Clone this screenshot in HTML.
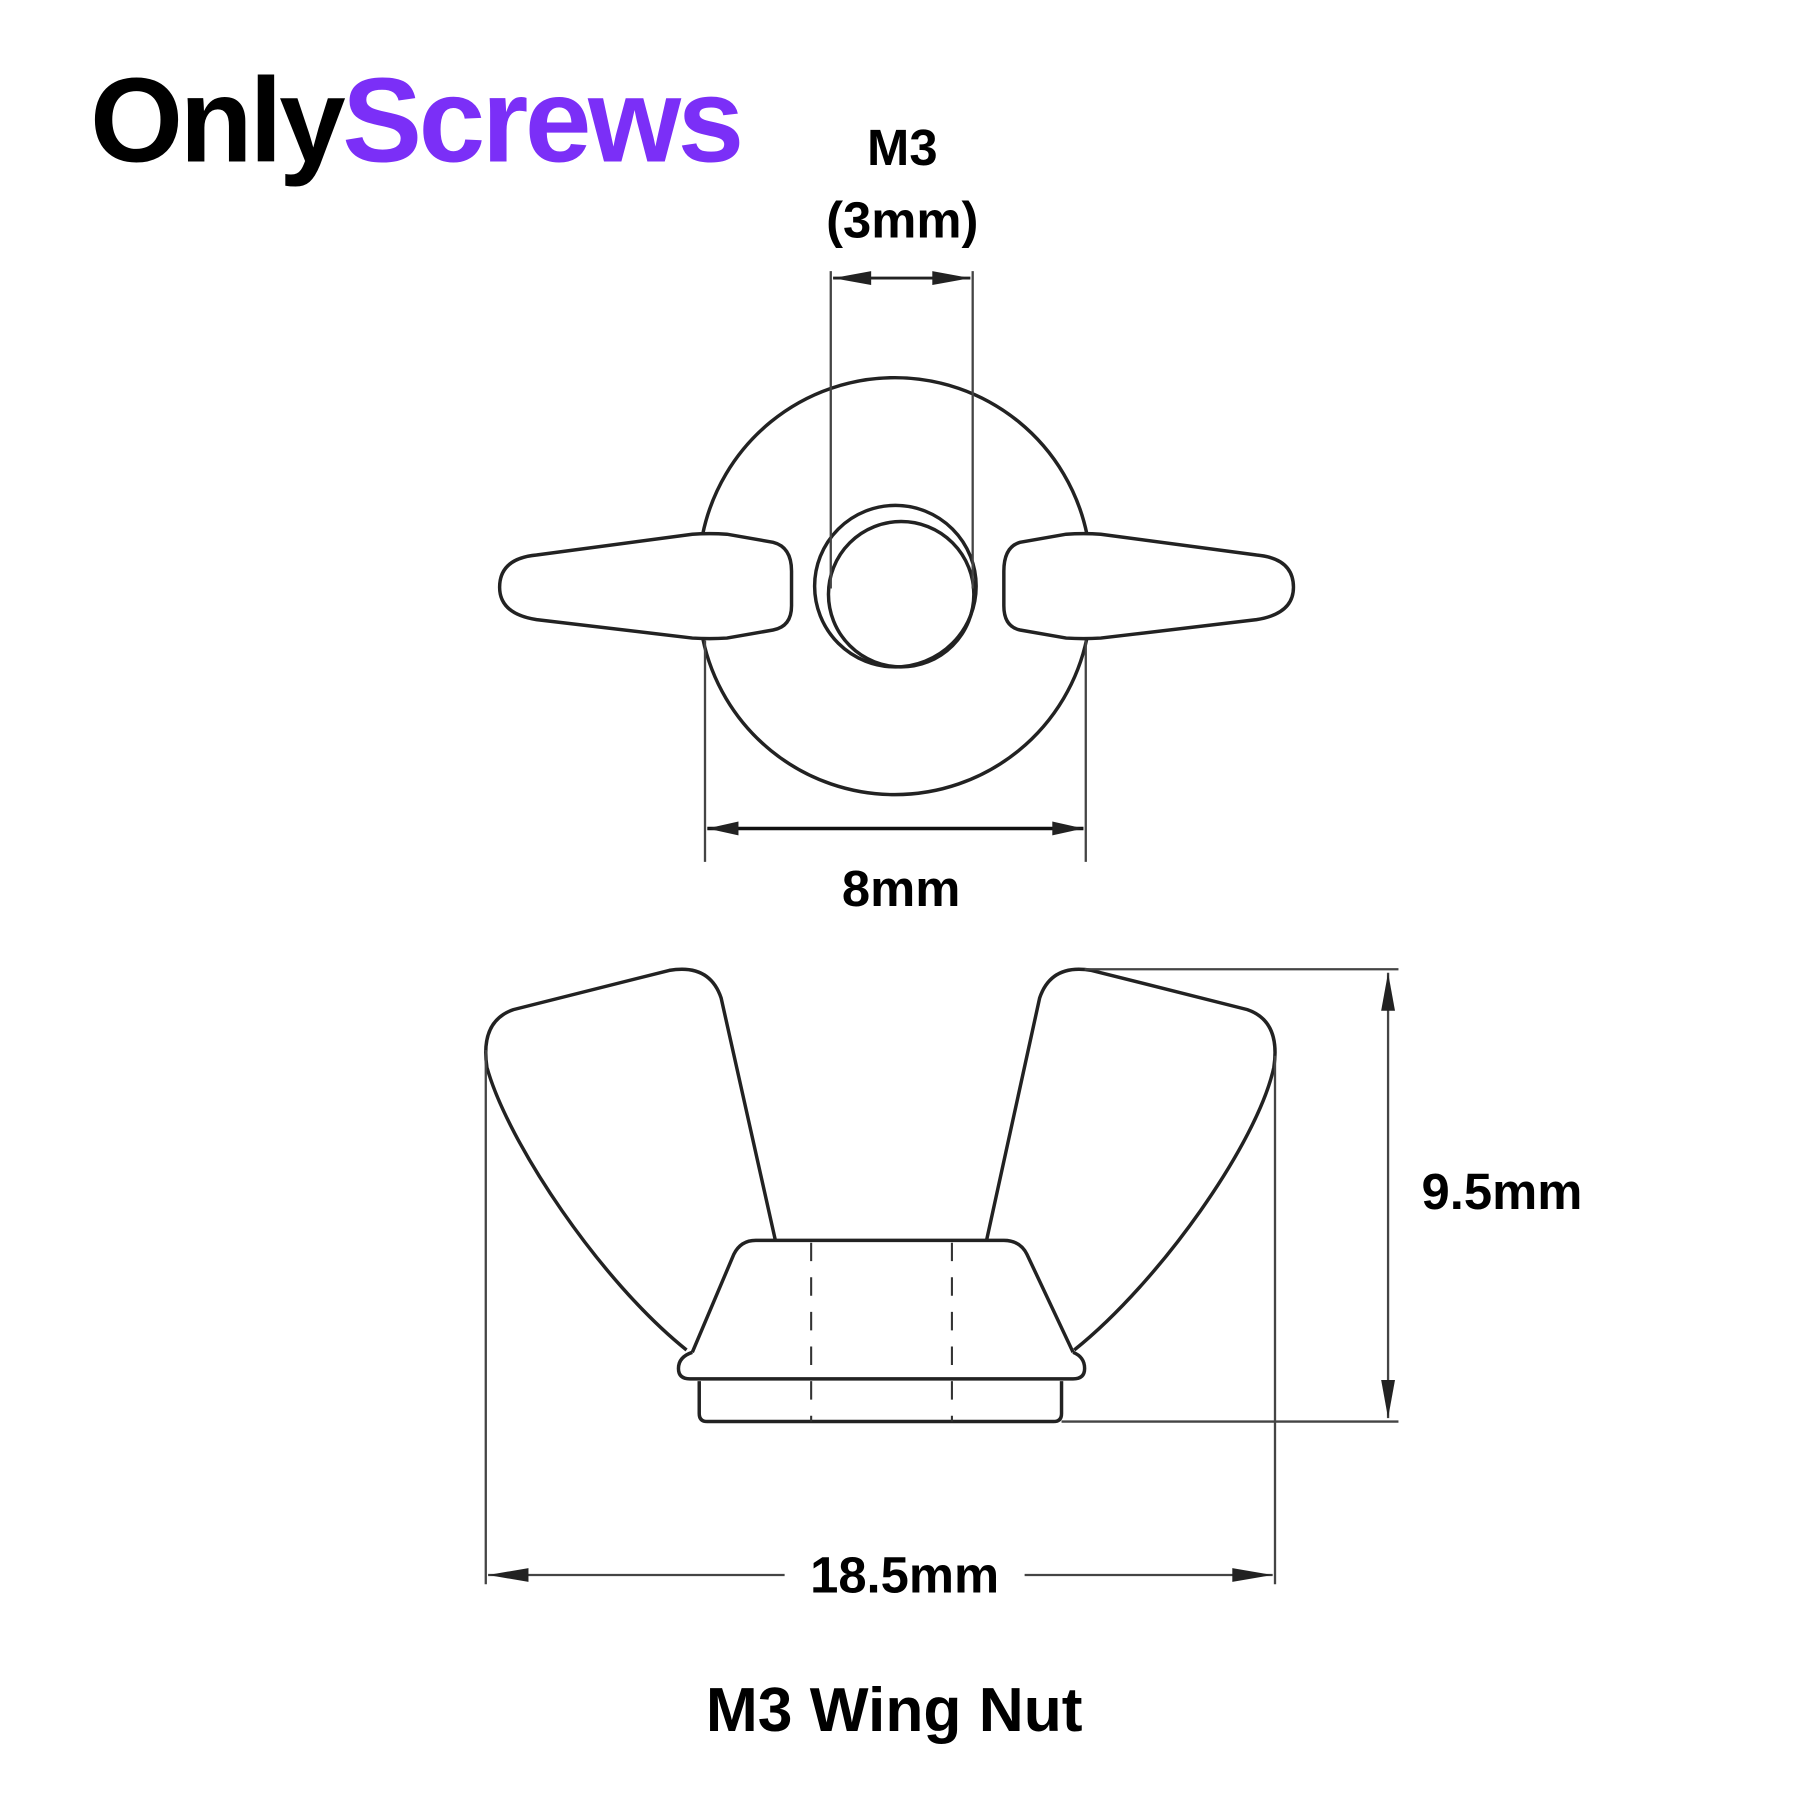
<!DOCTYPE html>
<html><head><meta charset="utf-8"><style>html,body{margin:0;padding:0;background:#fff}svg{display:block}</style></head>
<body>
<svg width="1800" height="1800" viewBox="0 0 1560 1560" xmlns="http://www.w3.org/2000/svg" font-family="Liberation Sans, sans-serif" font-weight="bold">
<rect width="1560" height="1560" fill="#fff"/>
<text x="78" y="140" font-size="104" textLength="564" lengthAdjust="spacingAndGlyphs" letter-spacing="-3"><tspan fill="#000">Only</tspan><tspan fill="#7b2ff7">Screws</tspan></text>
<text x="782" y="143" font-size="44" text-anchor="middle">M3</text>
<text x="782" y="206" font-size="44" text-anchor="middle">(3mm)</text>
<g fill="none" stroke="#222" stroke-width="3">
<path d="M609,463 A170,170 0 0 1 942,463"/>
<path d="M609,553 A170,170 0 0 0 942,553"/>
<circle cx="776" cy="508" r="70"/>
<circle cx="781" cy="515" r="63"/>
<path d="M465,481 L600,463 Q615,462 630,463 L670,470 Q686,474 686,495 L686,525 Q686,543 670,546 L630,553 Q615,554 600,553 L465,537 Q433,532 433,509 Q433,484 465,481 Z"/>
<path d="M1089,481 L954,463 Q939,462 924,463 L884,470 Q870,474 870,495 L870,525 Q870,543 884,546 L924,553 Q939,554 954,553 L1089,537 Q1121,532 1121,509 Q1121,484 1089,481 Z"/>
<path d="M606,1197 L606,1225 Q606,1232 613,1232 L913,1232 Q920,1232 920,1225 L920,1197"/>
<path d="M600,1172 Q588,1176 588,1186 Q588,1195 598,1195 L930,1195 Q940,1195 940,1186 Q940,1176 930,1172"/>
<path d="M600,1172 L636,1087 Q642,1075 655,1075 L870,1075 Q884,1075 890,1087 L930,1172"/>
<path d="M595,1170 C520,1110 440,990 422,925 Q416,885 445,875 L580,841 Q615,835 625,865 L672,1075"/>
<path d="M931,1170 C1006,1110 1090,990 1104,925 Q1110,885 1081,875 L946,841 Q911,835 901,865 L855,1075"/>
</g>
<g stroke="#333" stroke-width="1.8" stroke-dasharray="16 14" fill="none">
<line x1="703" y1="1077" x2="703" y2="1232"/>
<line x1="825" y1="1077" x2="825" y2="1232"/>
</g>
<g stroke="#444" stroke-width="2" fill="none">
<line x1="720" y1="235" x2="720" y2="510"/>
<line x1="843" y1="235" x2="843" y2="510"/>
<line x1="611" y1="555" x2="611" y2="747"/>
<line x1="941" y1="555" x2="941" y2="747"/>
<line x1="940" y1="840" x2="1212" y2="840"/>
<line x1="920" y1="1232" x2="1212" y2="1232"/>
<line x1="421" y1="910" x2="421" y2="1373"/>
<line x1="1105" y1="915" x2="1105" y2="1373"/>
<line x1="1203" y1="843" x2="1203" y2="1229"/>
<line x1="423" y1="1365" x2="680" y2="1365"/>
<line x1="888" y1="1365" x2="1103" y2="1365"/>
</g>
<line x1="722" y1="241" x2="841" y2="241" stroke="#222" stroke-width="2.5"/>
<line x1="613" y1="718" x2="939" y2="718" stroke="#111" stroke-width="3"/>
<g fill="#222">
<path d="M722,241 L755,235 L755,247 Z"/><path d="M841,241 L808,235 L808,247 Z"/>
<path d="M613,718 L640,712 L640,724 Z"/><path d="M939,718 L912,712 L912,724 Z"/>
<path d="M1203,843 L1197,876 L1209,876 Z"/><path d="M1203,1229 L1197,1196 L1209,1196 Z"/>
<path d="M423,1365 L458,1359 L458,1371 Z"/><path d="M1103,1365 L1068,1359 L1068,1371 Z"/>
</g>
<text x="781" y="785" font-size="44" text-anchor="middle">8mm</text>
<text x="1232" y="1048" font-size="44">9.5mm</text>
<text x="784" y="1380" font-size="44" text-anchor="middle">18.5mm</text>
<text x="775" y="1500" font-size="54" text-anchor="middle">M3 Wing Nut</text>
</svg>
</body></html>
